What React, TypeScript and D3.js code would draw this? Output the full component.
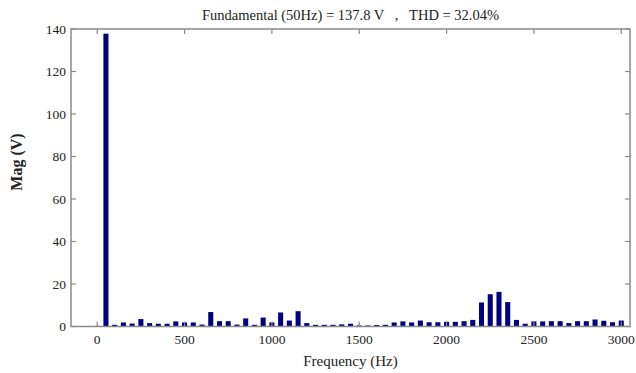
import React from 'react';
import * as d3 from 'd3';

const frequencies = [
  0, 50, 100, 150, 200, 250, 300, 350, 400, 450,
  500, 550, 600, 650, 700, 750, 800, 850, 900, 950,
  1000, 1050, 1100, 1150, 1200, 1250, 1300, 1350, 1400, 1450,
  1500, 1550, 1600, 1650, 1700, 1750, 1800, 1850, 1900, 1950,
  2000, 2050, 2100, 2150, 2200, 2250, 2300, 2350, 2400, 2450,
  2500, 2550, 2600, 2650, 2700, 2750, 2800, 2850, 2900, 2950,
  3000,
];

const magnitudes = [
  0.3, 137.8, 0.8, 1.9, 1.4, 3.5, 1.6, 1.3, 1.3, 2.4,
  1.9, 1.9, 0.9, 6.8, 2.5, 2.5, 0.9, 3.8, 0.8, 4.2,
  1.9, 6.6, 2.8, 7.2, 1.6, 0.8, 0.8, 0.8, 1.0, 1.3,
  0.5, 0.5, 0.7, 0.8, 1.9, 2.4, 1.9, 2.8, 2.0, 2.0,
  2.2, 2.2, 2.5, 3.1, 11.3, 15.2, 16.3, 11.5, 3.1, 1.3,
  2.4, 2.4, 2.5, 2.5, 1.6, 2.5, 2.5, 3.3, 2.7, 2.0,
  2.8,
];

const xTicks = [0, 500, 1000, 1500, 2000, 2500, 3000];
const yTicks = [0, 20, 40, 60, 80, 100, 120, 140];

const titleText = 'Fundamental (50Hz) = 137.8 V   ,   THD = 32.04%';
const xLabel = 'Frequency (Hz)';
const yLabel = 'Mag (V)';

export default function App() {
  const W = 636;
  const H = 373;
  const left = 71;
  const right = 630;
  const top = 29;
  const bottom = 326.5;

  const x = d3.scaleLinear().domain([-150, 3050]).range([left, right]);
  const y = d3.scaleLinear().domain([0, 140]).range([bottom, top]);
  const barW = (x(50) - x(0)) * 0.58;
  const font = '"Liberation Serif", "Times New Roman", serif';
  const axisColor = '#8a8a8a';
  const tickLen = 5;

  return (
    <svg
      width={W}
      height={H}
      style={{ position: 'absolute', left: 0, top: 0, background: '#fff' }}
      fontFamily={font}
    >
      <rect x={0} y={0} width={W} height={H} fill="#fff" />
      {frequencies.map((f, i) => (
        <rect
          key={f}
          x={x(f) - barW / 2}
          y={y(magnitudes[i])}
          width={barW}
          height={y(0) - y(magnitudes[i])}
          fill="#000080"
        />
      ))}
      {xTicks.map((t) => (
        <g key={'xt' + t}>
          <line x1={x(t)} x2={x(t)} y1={bottom} y2={bottom - tickLen} stroke={axisColor} strokeWidth={1.2} />
          <line x1={x(t)} x2={x(t)} y1={top} y2={top + tickLen} stroke={axisColor} strokeWidth={1.2} />
          <text x={x(t)} y={bottom + 17} textAnchor="middle" fontSize={13.5} fill="#222">
            {t}
          </text>
        </g>
      ))}
      {yTicks.map((t) => (
        <g key={'yt' + t}>
          <line x1={left} x2={left + tickLen} y1={y(t)} y2={y(t)} stroke={axisColor} strokeWidth={1.2} />
          <line x1={right} x2={right - tickLen} y1={y(t)} y2={y(t)} stroke={axisColor} strokeWidth={1.2} />
          <text x={left - 5} y={y(t)} dy="0.35em" textAnchor="end" fontSize={13.5} fill="#222">
            {t}
          </text>
        </g>
      ))}
      <rect
        x={left}
        y={top}
        width={right - left}
        height={bottom - top}
        fill="none"
        stroke={axisColor}
        strokeWidth={1.5}
      />
      <text x={(left + right) / 2} y={20} textAnchor="middle" fontSize={14.5} fill="#222" style={{ whiteSpace: 'pre' }}>
        {titleText}
      </text>
      <text x={(left + right) / 2} y={366} textAnchor="middle" fontSize={15} fill="#222">
        {xLabel}
      </text>
      <text
        transform={`translate(22, 162) rotate(-90)`}
        textAnchor="middle"
        fontSize={16}
        fontWeight="bold"
        fill="#222"
      >
        {yLabel}
      </text>
    </svg>
  );
}
